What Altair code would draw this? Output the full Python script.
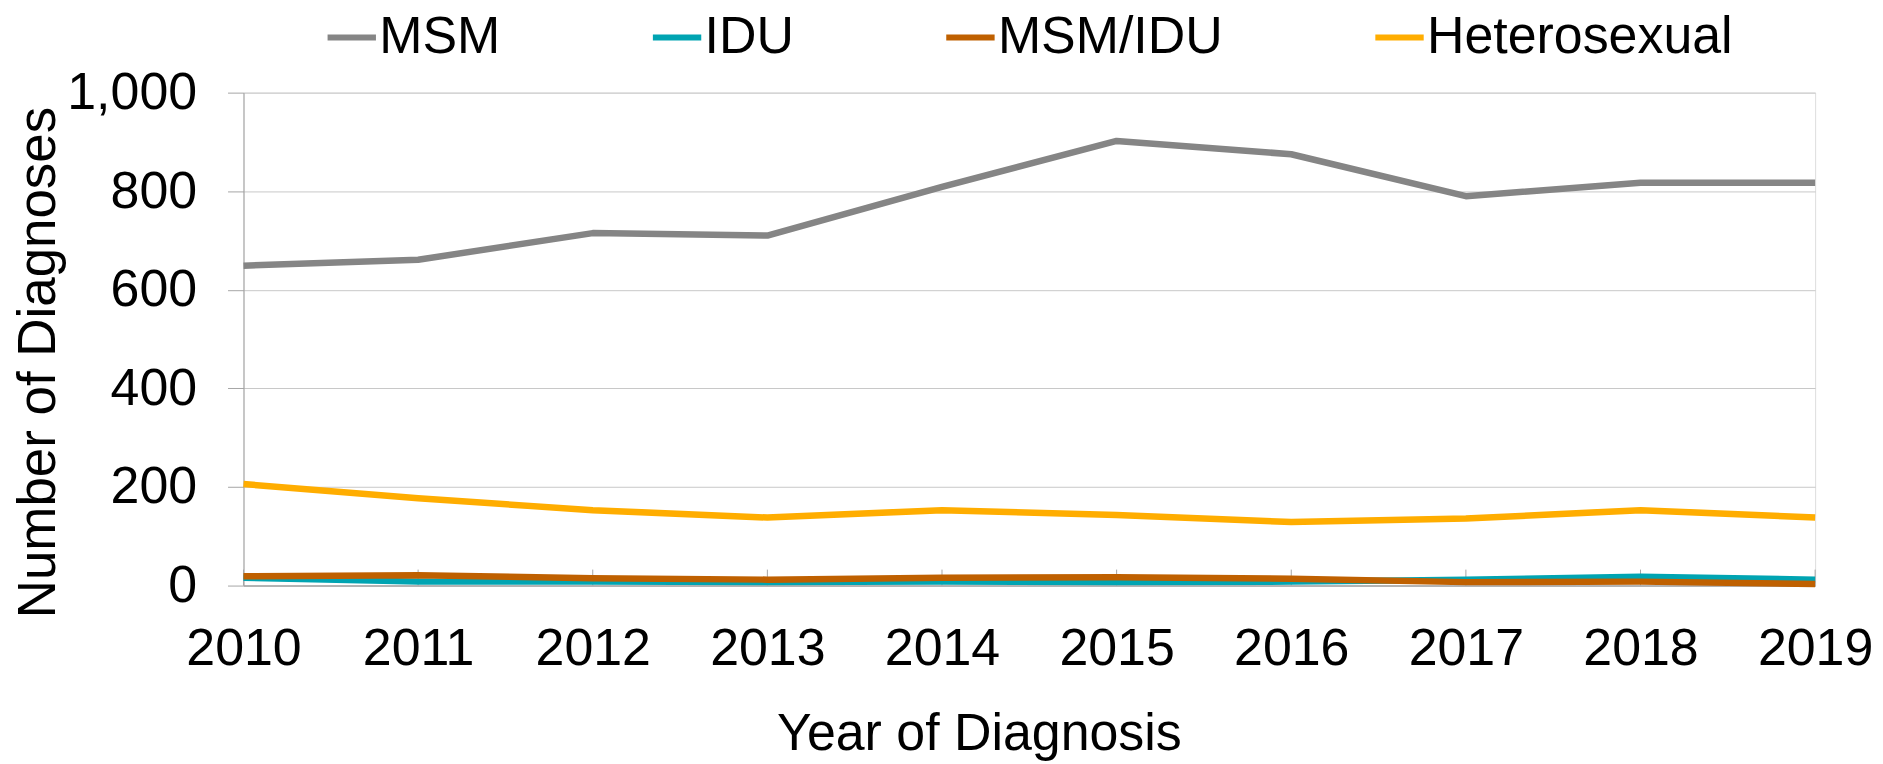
import altair as alt
import pandas as pd

years = [2010, 2011, 2012, 2013, 2014, 2015, 2016, 2017, 2018, 2019]
msm = [649, 661, 715, 710, 809, 902, 875, 790, 817, 817]
idu = [16, 8, 8, 7, 8, 7, 8, 12, 18, 12]
msm_idu = [19, 21, 15, 12, 16, 17, 14, 7, 8, 3]
hetero = [206, 177, 153, 138, 153, 143, 129, 136, 153, 138]

series = ["MSM", "IDU", "MSM/IDU", "Heterosexual"]
colors = ["#858585", "#00A4B2", "#BF6000", "#FFAD00"]
y_ticks = [0, 200, 400, 600, 800, 1000]

rows = []
for name, vals in zip(series, [msm, idu, msm_idu, hetero]):
    for yr, v in zip(years, vals):
        rows.append({"Year": yr, "Series": name, "Value": v})
df = pd.DataFrame(rows)

W, H = 1575, 494
FONT = "Liberation Sans"

x_scale = alt.Scale(domain=[years[0], years[-1]], nice=False, zero=False)
x_axis = alt.Axis(
    values=years,
    format="d",
    grid=False,
    ticks=False,
    domain=True,
    domainColor="#a6a6a6",
    domainWidth=1.5,
    labelFont=FONT,
    labelFontSize=52,
    labelColor="#000000",
    labelPadding=38,
    labelFlush=False,
    labelOverlap=False,
    title="Year of Diagnosis",
    titleFont=FONT,
    titleFontSize=52,
    titleFontWeight="normal",
    titleColor="#000000",
    titleX=737,
    titleY=123,
    titleAlign="center",
    titleBaseline="top",
)

tick_layer = alt.Chart(pd.DataFrame({"Year": years})).mark_rule(
    color="#a6a6a6", strokeWidth=1
).encode(
    x=alt.X("Year:Q", scale=x_scale, axis=x_axis),
    y=alt.value(H - 16),
    y2=alt.value(H),
)

lines = alt.Chart(df).mark_line(strokeWidth=6.5, strokeJoin="round", strokeCap="butt").encode(
    x=alt.X("Year:Q", scale=x_scale, axis=x_axis),
    y=alt.Y(
        "Value:Q",
        scale=alt.Scale(domain=[0, 1000], nice=False),
        axis=alt.Axis(
            values=y_ticks,
            format=",.0f",
            grid=True,
            gridColor="#c8c8c8",
            gridWidth=1,
            domain=True,
            domainColor="#a0a0a0",
            domainWidth=1,
            ticks=True,
            tickSize=16,
            tickColor="#a6a6a6",
            labelFont=FONT,
            labelFontSize=52,
            labelColor="#000000",
            labelPadding=31,
            title="Number of Diagnoses",
            titleFont=FONT,
            titleFontSize=53,
            titleFontWeight="normal",
            titleColor="#000000",
            titleAngle=-90,
            titleX=-189,
            titleY=270,
            titleAlign="center",
            titleBaseline="alphabetic",
        ),
    ),
    color=alt.Color(
        "Series:N",
        scale=alt.Scale(domain=series, range=colors),
        legend=alt.Legend(
            orient="none",
            legendX=81,
            legendY=-83,
            direction="horizontal",
            columns=4,
            gridAlign="each",
            title=None,
            padding=0,
            symbolType="stroke",
            symbolSize=2350,
            symbolStrokeWidth=6,
            labelFont=FONT,
            labelFontSize=52,
            labelColor="#000000",
            labelOffset=0,
            labelLimit=0,
            columnPadding=140,
        ),
    ),
)

chart = alt.layer(tick_layer, lines).properties(
    width=W,
    height=H,
    autosize=alt.AutoSizeParams(type="none"),
    padding={"left": 236, "top": 84, "right": 60, "bottom": 176},
).configure_view(stroke=None).configure(background="white")

chart.save("out.html", embed_options={"renderer": "svg", "actions": False})
